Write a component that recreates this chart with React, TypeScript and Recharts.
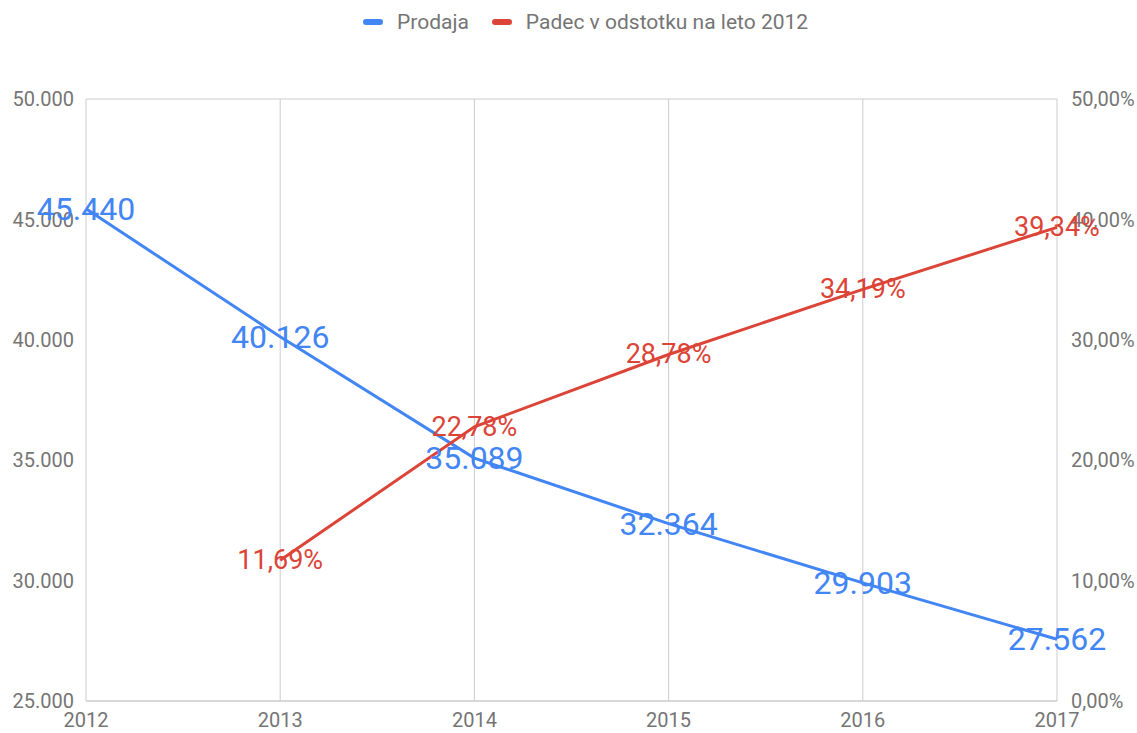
import React from "react";
import { LineChart, Line, XAxis, YAxis, CartesianGrid, LabelList } from "recharts";

const years = ["2012", "2013", "2014", "2015", "2016", "2017"];
const prodaja = [45440, 40126, 35089, 32364, 29903, 27562];
const padec = [null, 11.69, 22.78, 28.78, 34.19, 39.34];
const leftTicks = [25000, 30000, 35000, 40000, 45000, 50000];
const rightTicks = [0, 10, 20, 30, 40, 50];

const BLUE = "#4285f4";
const RED = "#db4437";
const TEXT = "#757575";
const FONT = "Roboto, sans-serif";

const fmtThousands = (v: number) => v.toLocaleString("de-DE");
const fmtPct = (v: number) => v.toFixed(2).replace(".", ",") + "%";

const data = years.map((y, i) => ({ year: y, prodaja: prodaja[i], padec: padec[i] }));

function makeLabel(color: string, size: number, fmt: (v: number) => string) {
  return (props: any) => {
    const { x, y, value } = props;
    if (value == null) return null;
    return (
      <text x={x} y={y} fill={color} fontSize={size} fontFamily={FONT} textAnchor="middle" dominantBaseline="central">
        {fmt(value)}
      </text>
    );
  };
}

function LegendItem({ color, label }: { color: string; label: string }) {
  return (
    <div style={{ display: "flex", alignItems: "center", marginRight: 23 }}>
      <div style={{ width: 20, height: 6, borderRadius: 3, background: color, marginRight: 14 }} />
      <span style={{ fontSize: 21, color: TEXT, fontFamily: FONT, lineHeight: "24px" }}>{label}</span>
    </div>
  );
}

export default function App() {
  const tick = { fontSize: 20, fill: TEXT, fontFamily: FONT };
  return (
    <div style={{ position: "absolute", left: 0, top: 0, width: 1137, height: 733, background: "#fff" }}>
      <div style={{ position: "absolute", top: 10, left: 363, display: "flex" }}>
        <LegendItem color={BLUE} label="Prodaja" />
        <LegendItem color={RED} label="Padec v odstotku na leto 2012" />
      </div>
      <LineChart width={1137} height={733} data={data} margin={{ top: 99, right: 0, left: 0, bottom: 0 }}>
        <CartesianGrid stroke="#cccccc" vertical={true} />
        <XAxis
          dataKey="year"
          axisLine={{ stroke: "#cccccc" }}
          tickLine={false}
          tickSize={0}
          tickMargin={12}
          height={32}
          tick={tick}
          interval={0}
        />
        <YAxis
          yAxisId="left"
          domain={[25000, 50000]}
          ticks={leftTicks}
          tickFormatter={fmtThousands}
          axisLine={false}
          tickLine={false}
          tickSize={0}
          tickMargin={12}
          width={86}
          tick={tick}
        />
        <YAxis
          yAxisId="right"
          orientation="right"
          domain={[0, 50]}
          ticks={rightTicks}
          tickFormatter={fmtPct}
          axisLine={false}
          tickLine={false}
          tickSize={0}
          tickMargin={14}
          width={80}
          tick={tick}
        />
        <Line
          yAxisId="left"
          dataKey="prodaja"
          stroke={BLUE}
          strokeWidth={3}
          dot={false}
          isAnimationActive={false}
          type="linear"
        >
          <LabelList dataKey="prodaja" content={makeLabel(BLUE, 32, fmtThousands)} />
        </Line>
        <Line
          yAxisId="right"
          dataKey="padec"
          stroke={RED}
          strokeWidth={3}
          dot={false}
          isAnimationActive={false}
          type="linear"
        >
          <LabelList dataKey="padec" content={makeLabel(RED, 27, fmtPct)} />
        </Line>
      </LineChart>
    </div>
  );
}
